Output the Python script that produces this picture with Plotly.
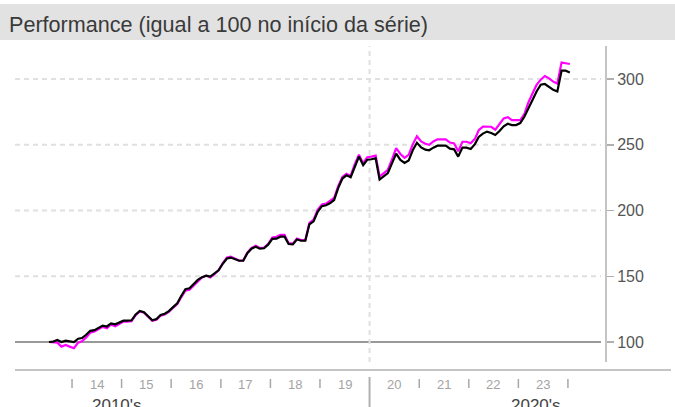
import plotly.graph_objects as go

# ---------------- data ----------------
start_year, start_month = 2013, 7
n_points = 127
dates = []
y, m = start_year, start_month
for _ in range(n_points):
    dates.append(f"{y}-{m:02d}-15")
    m += 1
    if m > 12:
        m = 1
        y += 1

benchmark = [
    100, 100.3, 101.5, 100, 101, 100.5, 100, 102.5, 103, 105.5,
    108.5, 109, 110.5, 112.5, 111.8, 114.2, 113.5, 115, 116.2, 116.2,
    116.5, 121, 123.6, 122.6, 119.5, 116.5, 117.5, 120.6, 121.5, 123.5,
    126.5, 129.5, 135, 140.2, 140.8, 143.7, 147.2, 149.3, 150.5, 149.7,
    152, 154.5, 159.5, 163.5, 164.2, 162.8, 161.8, 161.8, 167.5, 171,
    172.5, 171, 171.3, 174, 178.4, 178.6, 180.1, 180.1, 174.5, 174.2,
    178, 177, 177, 189.5, 191.8, 199, 203.3, 204, 205.5, 208,
    217, 224.3, 226.8, 225.3, 234, 241, 234.5, 238.6, 239, 239.7,
    223.5, 226, 228.5, 236, 243.3, 238.5, 236.2, 238, 246, 251.5,
    248, 246.3, 245.8, 247.8, 249.3, 249.3, 249.3, 247, 246.5, 241,
    247.8, 247.8, 246.8, 250.5, 256, 258.5, 260, 259, 257.4, 260.5,
    264, 266, 265, 265, 266.5, 271.5, 278, 284, 290.5, 295.6,
    296.2, 294, 291.8, 290.5, 306.3, 306.3, 305,
]

portfolio = [
    100, 100, 99.5, 96.5, 97.8, 96.5, 95.3, 99.5, 100.5, 103.5,
    107, 108, 109.5, 111.5, 110.5, 113.3, 112, 114, 115.5, 115.5,
    115.8, 120.5, 123.2, 122.3, 119.3, 116.2, 117, 120, 121, 123,
    126, 128.8, 134, 139, 139.8, 143, 146.5, 149, 150.5, 149,
    151.5, 154.5, 160, 164.3, 165, 163.3, 162, 162, 168, 171.5,
    173.2, 171.5, 171.8, 174.5, 179.5, 180, 181.5, 181.5, 175.2, 174.8,
    178.7, 177.5, 177.5, 190.5, 193, 200.5, 204.6, 205.3, 207, 209.5,
    218.5, 225.5, 228, 226.5, 235.5, 242.5, 236, 240.5, 241, 241.7,
    225.7, 228.5, 231, 239, 247.5, 243, 240, 242.3, 250.5, 256.5,
    252.5, 250.8, 250, 252.5, 254.1, 254.1, 254.1, 251.7, 251, 245,
    252.3, 252.3, 251.2, 254.5, 261, 263.8, 264, 263.7, 261.5, 265.5,
    270, 271, 268.8, 268.8, 268.8, 273.5, 282, 289, 295.5, 299.5,
    302.3, 300.5, 298, 296.5, 312.5, 312, 311.4,
]

y_ticks = [100, 150, 200, 250, 300]
base_value = 100
year_labels = ["14", "15", "16", "17", "18", "19", "20", "21", "22", "23"]
label_years = [2014, 2015, 2016, 2017, 2018, 2019, 2020, 2021, 2022, 2023]
tick_years = [2014, 2015, 2016, 2017, 2018, 2019, 2021, 2022, 2023, 2024]
decade_year = 2020
decade_labels = ["2010's", "2020's"]
title_text = "Performance (igual a 100 no início da série)"

# ---------------- figure ----------------
W, H = 675, 407
L, R, T, B = 15, 70, 46, 45
PW, PH = W - L - R, H - T - B


def px_x(px):
    return (px - L) / PW


def px_y(py):
    return (H - B - py) / PH


fig = go.Figure()
fig.add_trace(go.Scatter(x=dates, y=portfolio, mode="lines",
                         line=dict(color="#ff00ff", width=2.2), showlegend=False,
                         hoverinfo="skip"))
fig.add_trace(go.Scatter(x=dates, y=benchmark, mode="lines",
                         line=dict(color="#000000", width=2.2), showlegend=False,
                         hoverinfo="skip"))

shapes = []
# title band
shapes.append(dict(type="rect", xref="paper", yref="paper",
                   x0=px_x(0), x1=px_x(W), y0=px_y(40), y1=px_y(4),
                   fillcolor="#e2e2e2", line=dict(width=0), layer="below"))
# dashed horizontal gridlines
for v in y_ticks:
    if v == base_value:
        continue
    shapes.append(dict(type="line", xref="paper", yref="y", x0=0, x1=px_x(601),
                       y0=v, y1=v,
                       line=dict(color="#e0e0e0", width=2, dash="5px,4px"), layer="below"))
# base line at 100
shapes.append(dict(type="line", xref="paper", yref="y", x0=0, x1=px_x(601),
                   y0=base_value, y1=base_value,
                   line=dict(color="#999999", width=2), layer="below"))
# decade vertical dashed gridline
shapes.append(dict(type="line", xref="x", yref="paper", x0=f"{decade_year}-01-01",
                   x1=f"{decade_year}-01-01", y0=0, y1=1,
                   line=dict(color="#e0e0e0", width=2, dash="5px,4px"), layer="below"))
# x axis line
shapes.append(dict(type="line", xref="paper", yref="paper", x0=0, x1=px_x(671),
                   y0=px_y(370), y1=px_y(370), line=dict(color="#c4c4c4", width=2)))
# year tick marks
for yr in tick_years:
    shapes.append(dict(type="line", xref="x", yref="paper", x0=f"{yr}-01-01",
                       x1=f"{yr}-01-01", y0=px_y(379), y1=px_y(388),
                       line=dict(color="#a8a8a8", width=1.5)))
# decade tick
shapes.append(dict(type="line", xref="x", yref="paper", x0=f"{decade_year}-01-01",
                   x1=f"{decade_year}-01-01", y0=px_y(377), y1=px_y(410),
                   line=dict(color="#b0b0b0", width=2)))

annotations = []
annotations.append(dict(text=title_text, xref="paper", yref="paper",
                        x=px_x(7), y=px_y(24), xanchor="left", yanchor="middle",
                        showarrow=False,
                        font=dict(family="Liberation Sans, Arial", size=21.6, color="#3a3a3a")))
for yr, lab in zip(label_years, year_labels):
    annotations.append(dict(text=lab, xref="x", yref="paper", x=f"{yr}-07-01",
                            y=px_y(384), xanchor="center", yanchor="middle",
                            showarrow=False,
                            font=dict(family="Liberation Sans, Arial", size=13, color="#a4a4a4")))
for lab, cx in zip(decade_labels, [117, 536]):
    annotations.append(dict(text=lab, xref="paper", yref="paper", x=px_x(cx),
                            y=px_y(394), xanchor="center", yanchor="top",
                            showarrow=False,
                            font=dict(family="Liberation Sans, Arial", size=17, color="#444444")))

fig.update_layout(
    width=W, height=H,
    margin=dict(l=L, r=R, t=T, b=B, pad=0, autoexpand=False),
    paper_bgcolor="white", plot_bgcolor="white",
    shapes=shapes, annotations=annotations,
    xaxis=dict(type="date", range=["2012-11-07", "2024-09-30"], showgrid=False,
               showticklabels=False, ticks="", zeroline=False, showline=False,
               automargin=False),
    yaxis=dict(side="right", range=[84.8, 325.1], tickvals=y_ticks,
               showgrid=False,
               showline=True, linecolor="#c4c4c4", linewidth=2,
               ticks="outside", ticklen=7, tickwidth=1.5, tickcolor="#b0b0b0",
               tickfont=dict(family="Liberation Sans, Arial", size=16, color="#555555"),
               zeroline=False, automargin=False),
)

fig.write_html(
    "out.html",
    config={"displayModeBar": False, "staticPlot": True},
    post_script="document.body.style.margin='0';document.body.style.overflow='hidden';",
)
